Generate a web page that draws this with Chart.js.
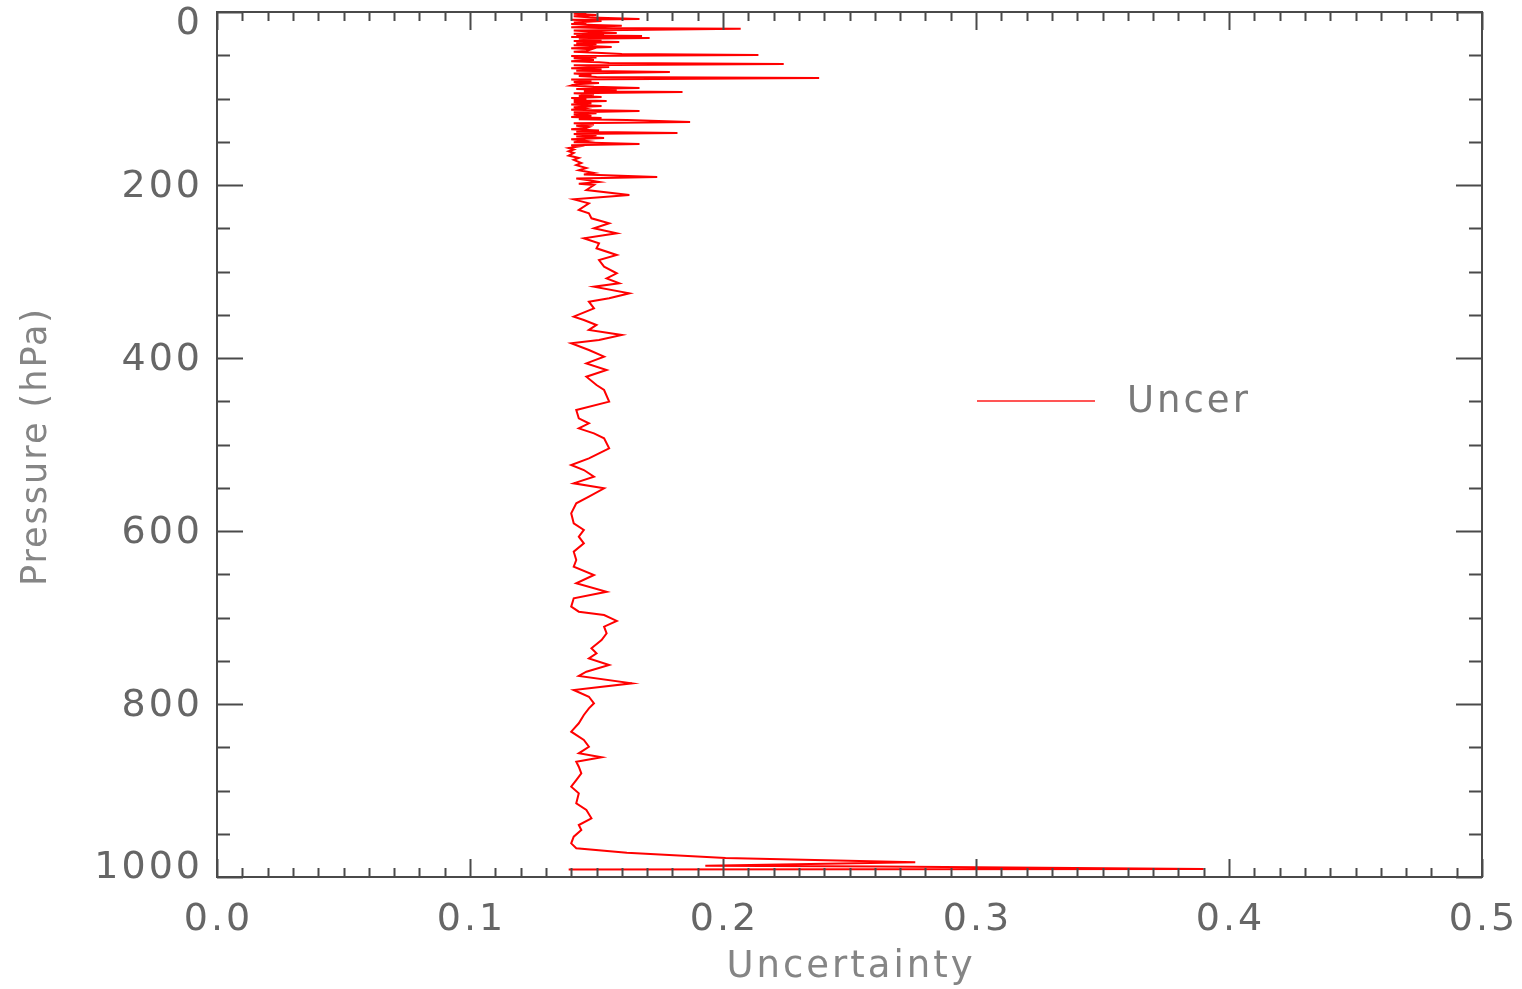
<!DOCTYPE html>
<html>
<head>
<meta charset="utf-8">
<script src="https://cdn.jsdelivr.net/npm/chart.js@4/dist/chart.umd.min.js"></script>
<style>
  html, body { margin: 0; padding: 0; background: #ffffff; }
  #wrap { width: 1522px; height: 989px; position: relative; }
</style>
</head>
<body>
<div id="wrap"><canvas id="c" width="1522" height="989"></canvas></div>
<script>
// ---- data ----
const seriesLabel = 'Uncer';
const pressure = [
  0, 1, 2, 3.5, 5, 6.5, 8, 9, 10.5, 12, 12.7, 14, 15, 16, 17.5, 18.5, 19.5, 20.5, 21.5, 23,
  24.3, 25.2, 26, 27, 27.7, 29, 30.1, 31, 32.5, 33.5, 34.7, 36, 37, 38.5, 40.5, 42, 43, 45, 46, 47.5,
  48.6, 49.7, 51, 52.5, 53.5, 55.5, 57, 58, 59, 60.1, 61.5, 62.5, 63.6, 65, 66.5, 68, 69.4, 71, 72.5, 74,
  75.2, 76.3, 78, 79.5, 81, 82.1, 83.5, 85, 86.5, 88, 89, 90.5, 91.5, 92.5, 94, 95.5, 97, 98.3, 99.5, 100.5,
  102, 102.9, 104, 105.5, 107, 108.7, 110, 111.5, 113, 114.5, 116, 117, 118.5, 120.2, 121.5, 122.5, 124, 124.9, 127.2, 128.5,
  130, 131.5, 133, 134.1, 135.5, 137, 138.5, 139.9, 141, 142.5, 144, 145.7, 147, 149, 150.5, 152.6, 154, 155.5, 157.2, 159,
  161, 163, 166, 168.8, 171, 174.6, 177, 180.3, 183, 186.1, 188, 190.8, 192.5, 194.5, 196.5, 198.5, 200, 205.8, 211.6, 216.6,
  221.2, 228.9, 232.8, 238.5, 244.3, 250.1, 255.9, 261.6, 267.4, 273.2, 280.9, 286.7, 294.4, 302.1, 307.9, 313.6, 317.5, 325.2, 331, 334.9,
  342.6, 352.2, 356.1, 361.8, 367.6, 373.4, 379.2, 383, 390.8, 398.5, 406.2, 413.9, 421.6, 431.2, 437, 450.5, 460.1, 469.7, 475.5, 481.3,
  487.1, 492.9, 504.4, 510.2, 516, 523.7, 529.5, 537.2, 544.9, 550.7, 560.3, 568, 579.6, 591.1, 598.8, 606.6, 614.2, 623.9, 633.5, 641.3,
  650.9, 660.5, 670.2, 677.8, 687.5, 693.3, 697.1, 704, 710.6, 718.3, 726, 735.6, 741.4, 747.2, 754.9, 762.7, 767.6, 776.1, 783.8, 791.6,
  799.2, 805, 812.7, 822.3, 832, 841.6, 849.4, 857, 861.6, 866.7, 872.5, 880.1, 887.9, 895.6, 903.3, 914.8, 922.5, 932.1, 939.9, 945.7,
  953.4, 961.1, 966.8, 972, 978, 983, 987, 988, 990.8, 991.2
];
const uncertainty = [
  0.140, 0.146, 0.141, 0.150, 0.141, 0.148, 0.167, 0.140, 0.152, 0.141, 0.146, 0.140, 0.149, 0.160, 0.140, 0.151, 0.207, 0.171, 0.141, 0.150,
  0.158, 0.141, 0.153, 0.142, 0.168, 0.140, 0.171, 0.143, 0.152, 0.141, 0.159, 0.142, 0.150, 0.141, 0.156, 0.140, 0.148, 0.146, 0.141, 0.152,
  0.160, 0.214, 0.140, 0.150, 0.141, 0.149, 0.140, 0.151, 0.155, 0.224, 0.141, 0.150, 0.155, 0.140, 0.152, 0.142, 0.179, 0.141, 0.148, 0.143,
  0.150, 0.238, 0.140, 0.148, 0.141, 0.151, 0.142, 0.140, 0.149, 0.167, 0.142, 0.158, 0.145, 0.184, 0.141, 0.149, 0.143, 0.152, 0.140, 0.146,
  0.141, 0.154, 0.141, 0.148, 0.140, 0.152, 0.141, 0.145, 0.140, 0.167, 0.141, 0.150, 0.141, 0.148, 0.140, 0.152, 0.143, 0.162, 0.187, 0.141,
  0.149, 0.142, 0.147, 0.146, 0.140, 0.151, 0.142, 0.182, 0.141, 0.150, 0.142, 0.153, 0.140, 0.146, 0.141, 0.167, 0.140, 0.143, 0.139, 0.141,
  0.139, 0.141, 0.139, 0.143, 0.141, 0.144, 0.142, 0.146, 0.143, 0.149, 0.145, 0.174, 0.142, 0.147, 0.151, 0.143, 0.149, 0.146, 0.163, 0.141,
  0.147, 0.143, 0.147, 0.148, 0.155, 0.149, 0.158, 0.145, 0.151, 0.150, 0.158, 0.151, 0.153, 0.158, 0.154, 0.159, 0.149, 0.163, 0.155, 0.147,
  0.149, 0.141, 0.145, 0.150, 0.147, 0.160, 0.151, 0.140, 0.147, 0.153, 0.146, 0.154, 0.146, 0.150, 0.153, 0.155, 0.142, 0.143, 0.147, 0.143,
  0.149, 0.153, 0.155, 0.151, 0.147, 0.140, 0.145, 0.149, 0.141, 0.153, 0.147, 0.142, 0.140, 0.141, 0.145, 0.143, 0.145, 0.141, 0.142, 0.141,
  0.149, 0.142, 0.154, 0.141, 0.140, 0.143, 0.153, 0.158, 0.153, 0.154, 0.152, 0.148, 0.150, 0.147, 0.155, 0.146, 0.143, 0.164, 0.141, 0.147,
  0.149, 0.147, 0.145, 0.143, 0.140, 0.145, 0.147, 0.143, 0.152, 0.142, 0.143, 0.144, 0.142, 0.140, 0.143, 0.142, 0.146, 0.148, 0.143, 0.144,
  0.141, 0.140, 0.142, 0.162, 0.201, 0.276, 0.193, 0.262, 0.390, 0.139
];
const xTickValues = [0, 0.1, 0.2, 0.3, 0.4, 0.5];
const xTickLabels = ['0.0', '0.1', '0.2', '0.3', '0.4', '0.5'];
const yTickValues = [0, 200, 400, 600, 800, 1000];
const yTickLabels = ['0', '200', '400', '600', '800', '1000'];
const xTitle = 'Uncertainty';
const yTitle = 'Pressure (hPa)';

const points = pressure.map((p, i) => ({ x: uncertainty[i], y: p }));

const FONT = '"DejaVu Sans", "Liberation Sans", sans-serif';

// IDL-like frame: box, inward ticks on all sides, labels, titles, legend
const idlFrame = {
  id: 'idlFrame',
  afterDatasetsDraw(chart) {
    const { ctx, chartArea: a, scales: { x, y } } = chart;
    ctx.save();
    ctx.strokeStyle = '#4a4a4a';
    ctx.lineWidth = 2;
    ctx.strokeRect(a.left, a.top, a.right - a.left, a.bottom - a.top);

    ctx.beginPath();
    for (let k = 0; k <= 50; k++) {
      const v = k / 100;
      const px = Math.round(x.getPixelForValue(v)) + 0.5;
      const len = (k % 10 === 0) ? 18 : 9;
      ctx.moveTo(px, a.bottom); ctx.lineTo(px, a.bottom - len);
      ctx.moveTo(px, a.top); ctx.lineTo(px, a.top + len);
    }
    for (let k = 0; k <= 20; k++) {
      const v = k * 50;
      const py = Math.round(y.getPixelForValue(v)) + 0.5;
      const len = (k % 4 === 0) ? 26 : 13;
      ctx.moveTo(a.left, py); ctx.lineTo(a.left + len, py);
      ctx.moveTo(a.right, py); ctx.lineTo(a.right - len, py);
    }
    ctx.stroke();

    // tick labels
    ctx.fillStyle = '#666666';
    ctx.font = '38px ' + FONT;
    if ('letterSpacing' in ctx) ctx.letterSpacing = '3px';
    ctx.textBaseline = 'middle';
    ctx.textAlign = 'center';
    xTickValues.forEach((v, i) => {
      ctx.fillText(xTickLabels[i], x.getPixelForValue(v) + 1.5, a.bottom + 43);
    });
    ctx.textAlign = 'right';
    yTickValues.forEach((v, i) => {
      let py = y.getPixelForValue(v);
      py = Math.max(a.top + 12, Math.min(a.bottom - 9, py + 2));
      ctx.fillText(yTickLabels[i], a.left - 14, py);
    });

    // axis titles
    ctx.fillStyle = '#858585';
    ctx.font = '37px ' + FONT;
    ctx.textAlign = 'center';
    ctx.fillText(xTitle, (a.left + a.right) / 2 + 1.5, 967);
    ctx.save();
    ctx.translate(37, (a.top + a.bottom) / 2 + 2);
    ctx.rotate(-Math.PI / 2);
    ctx.font = '35px ' + FONT;
    if ('letterSpacing' in ctx) ctx.letterSpacing = '2px';
    ctx.fillText(yTitle, 0, 0);
    ctx.restore();

    // legend
    const ds = chart.data.datasets[0];
    ctx.strokeStyle = '#ff5555';
    ctx.lineWidth = 2;
    ctx.beginPath();
    ctx.moveTo(977, 401); ctx.lineTo(1095, 401);
    ctx.stroke();
    ctx.fillStyle = '#7a7a7a';
    ctx.textAlign = 'left';
    ctx.fillText(ds.label, 1127, 402);
    ctx.restore();
  }
};

new Chart(document.getElementById('c'), {
  type: 'scatter',
  data: {
    datasets: [{
      label: seriesLabel,
      data: points,
      showLine: true,
      borderColor: '#ff0000',
      borderWidth: 2,
      pointRadius: 0,
      pointHoverRadius: 0,
      tension: 0,
      fill: false
    }]
  },
  options: {
    responsive: false,
    animation: false,
    events: [],
    layout: { padding: { top: 12, right: 40, left: 0, bottom: 0 } },
    plugins: { legend: { display: false }, tooltip: { enabled: false } },
    scales: {
      x: {
        type: 'linear', min: 0, max: 0.5,
        ticks: { display: false, stepSize: 0.1 },
        grid: { display: false },
        border: { display: false },
        afterFit(s) { s.height = 112; }
      },
      y: {
        type: 'linear', min: 0, max: 1000, reverse: true,
        ticks: { display: false, stepSize: 200 },
        grid: { display: false },
        border: { display: false },
        afterFit(s) { s.width = 217; }
      }
    }
  },
  plugins: [idlFrame]
});
</script>
</body>
</html>
